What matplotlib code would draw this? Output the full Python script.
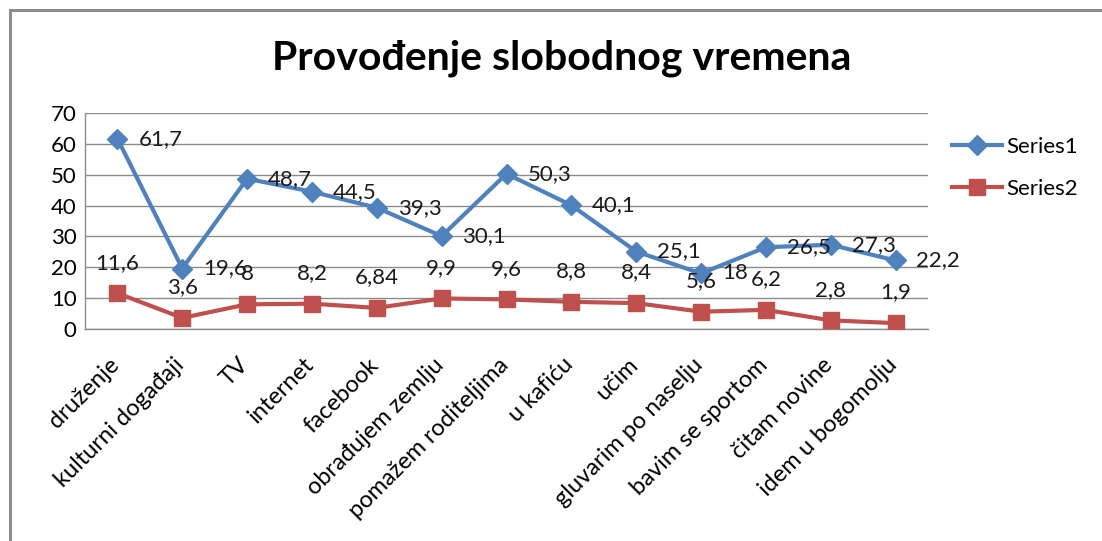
import matplotlib.pyplot as plt
import matplotlib.patches as mpatches
import matplotlib.transforms as mtransforms
from matplotlib.lines import Line2D

# data
categories = ['druženje', 'kulturni događaji', 'TV', 'internet', 'facebook',
              'obrađujem zemlju', 'pomažem roditeljima', 'u kafiću', 'učim',
              'gluvarim po naselju', 'bavim se sportom', 'čitam novine',
              'idem u bogomolju']
series1 = [61.7, 19.6, 48.7, 44.5, 39.3, 30.1, 50.3, 40.1, 25.1, 18, 26.5, 27.3, 22.2]
series2 = [11.6, 3.6, 8, 8.2, 6.84, 9.9, 9.6, 8.8, 8.4, 5.6, 6.2, 2.8, 1.9]
yticks = [0, 10, 20, 30, 40, 50, 60, 70]

BLUE = '#4F81BD'
RED = '#C0504D'
GRID = '#8C8C8C'
FS = 16

plt.rcParams['font.family'] = ['Lato', 'DejaVu Sans']

W, H = 1102, 541
fig = plt.figure(figsize=(W / 100, H / 100), dpi=100)

# outer chart frame (runs off right/bottom edges)
fig.patches.append(mpatches.Rectangle((10 / W, -0.1), 1.2, 1 - 10 / H + 0.1,
                                      transform=fig.transFigure, fill=False,
                                      edgecolor='#8C8C8C', linewidth=2.2))

ax = fig.add_axes([85 / W, 1 - 329 / H, (928 - 85) / W, (329 - 113) / H])
x = list(range(len(categories)))

ax.plot(x, series1, color=BLUE, linewidth=3, marker='D', markersize=10,
        label='Series1', zorder=3)
ax.plot(x, series2, color=RED, linewidth=3, marker='s', markersize=11.5,
        label='Series2', zorder=3)

def fmt(v):
    return ('%g' % v).replace('.', ',')

for xi, v in zip(x, series1):
    ax.annotate(fmt(v), (xi, v), xytext=(15, 0), textcoords='offset points',
                ha='left', va='center', fontsize=FS, color='#1a1a1a', zorder=4)
for xi, v in zip(x, series2):
    ax.annotate(fmt(v), (xi, v), xytext=(0, 22), textcoords='offset points',
                ha='center', va='center', fontsize=FS, color='#1a1a1a', zorder=4)

ax.set_xlim(-0.5, len(categories) - 0.5)
ax.set_ylim(0, 70)
ax.set_yticks(yticks)
ax.set_yticklabels([str(t) for t in yticks], fontsize=FS)
ax.set_xticks(x)
ax.set_xticklabels(categories, rotation=45, ha='right', rotation_mode='anchor',
                   fontsize=17)
ax.tick_params(axis='y', length=0, pad=6)
ax.tick_params(axis='x', length=0, pad=18)
shift = mtransforms.ScaledTranslation(-9 / 100, 0, fig.dpi_scale_trans)
for lbl in ax.get_xticklabels():
    lbl.set_transform(lbl.get_transform() + shift)
ax.yaxis.grid(True, color=GRID, linewidth=1)
ax.set_axisbelow(True)
for s in ['top', 'right']:
    ax.spines[s].set_visible(False)
for s in ['left', 'bottom']:
    ax.spines[s].set_color(GRID)
    ax.spines[s].set_linewidth(1)

fig.text(562 / W, 1 - 58 / H, 'Provođenje slobodnog vremena', ha='center',
         va='center', fontsize=29.5, fontweight='bold')

handles = [Line2D([], [], color=BLUE, linewidth=3, marker='D', markersize=10),
           Line2D([], [], color=RED, linewidth=3, marker='s', markersize=11.5)]
fig.legend(handles, ['Series1', 'Series2'], loc='upper left',
           bbox_to_anchor=(932 / W, 1 - 117 / H), frameon=False, fontsize=FS,
           handlelength=2.25, labelspacing=1.0, handletextpad=0.2)

fig.savefig('out.png', dpi=100, facecolor='white')
